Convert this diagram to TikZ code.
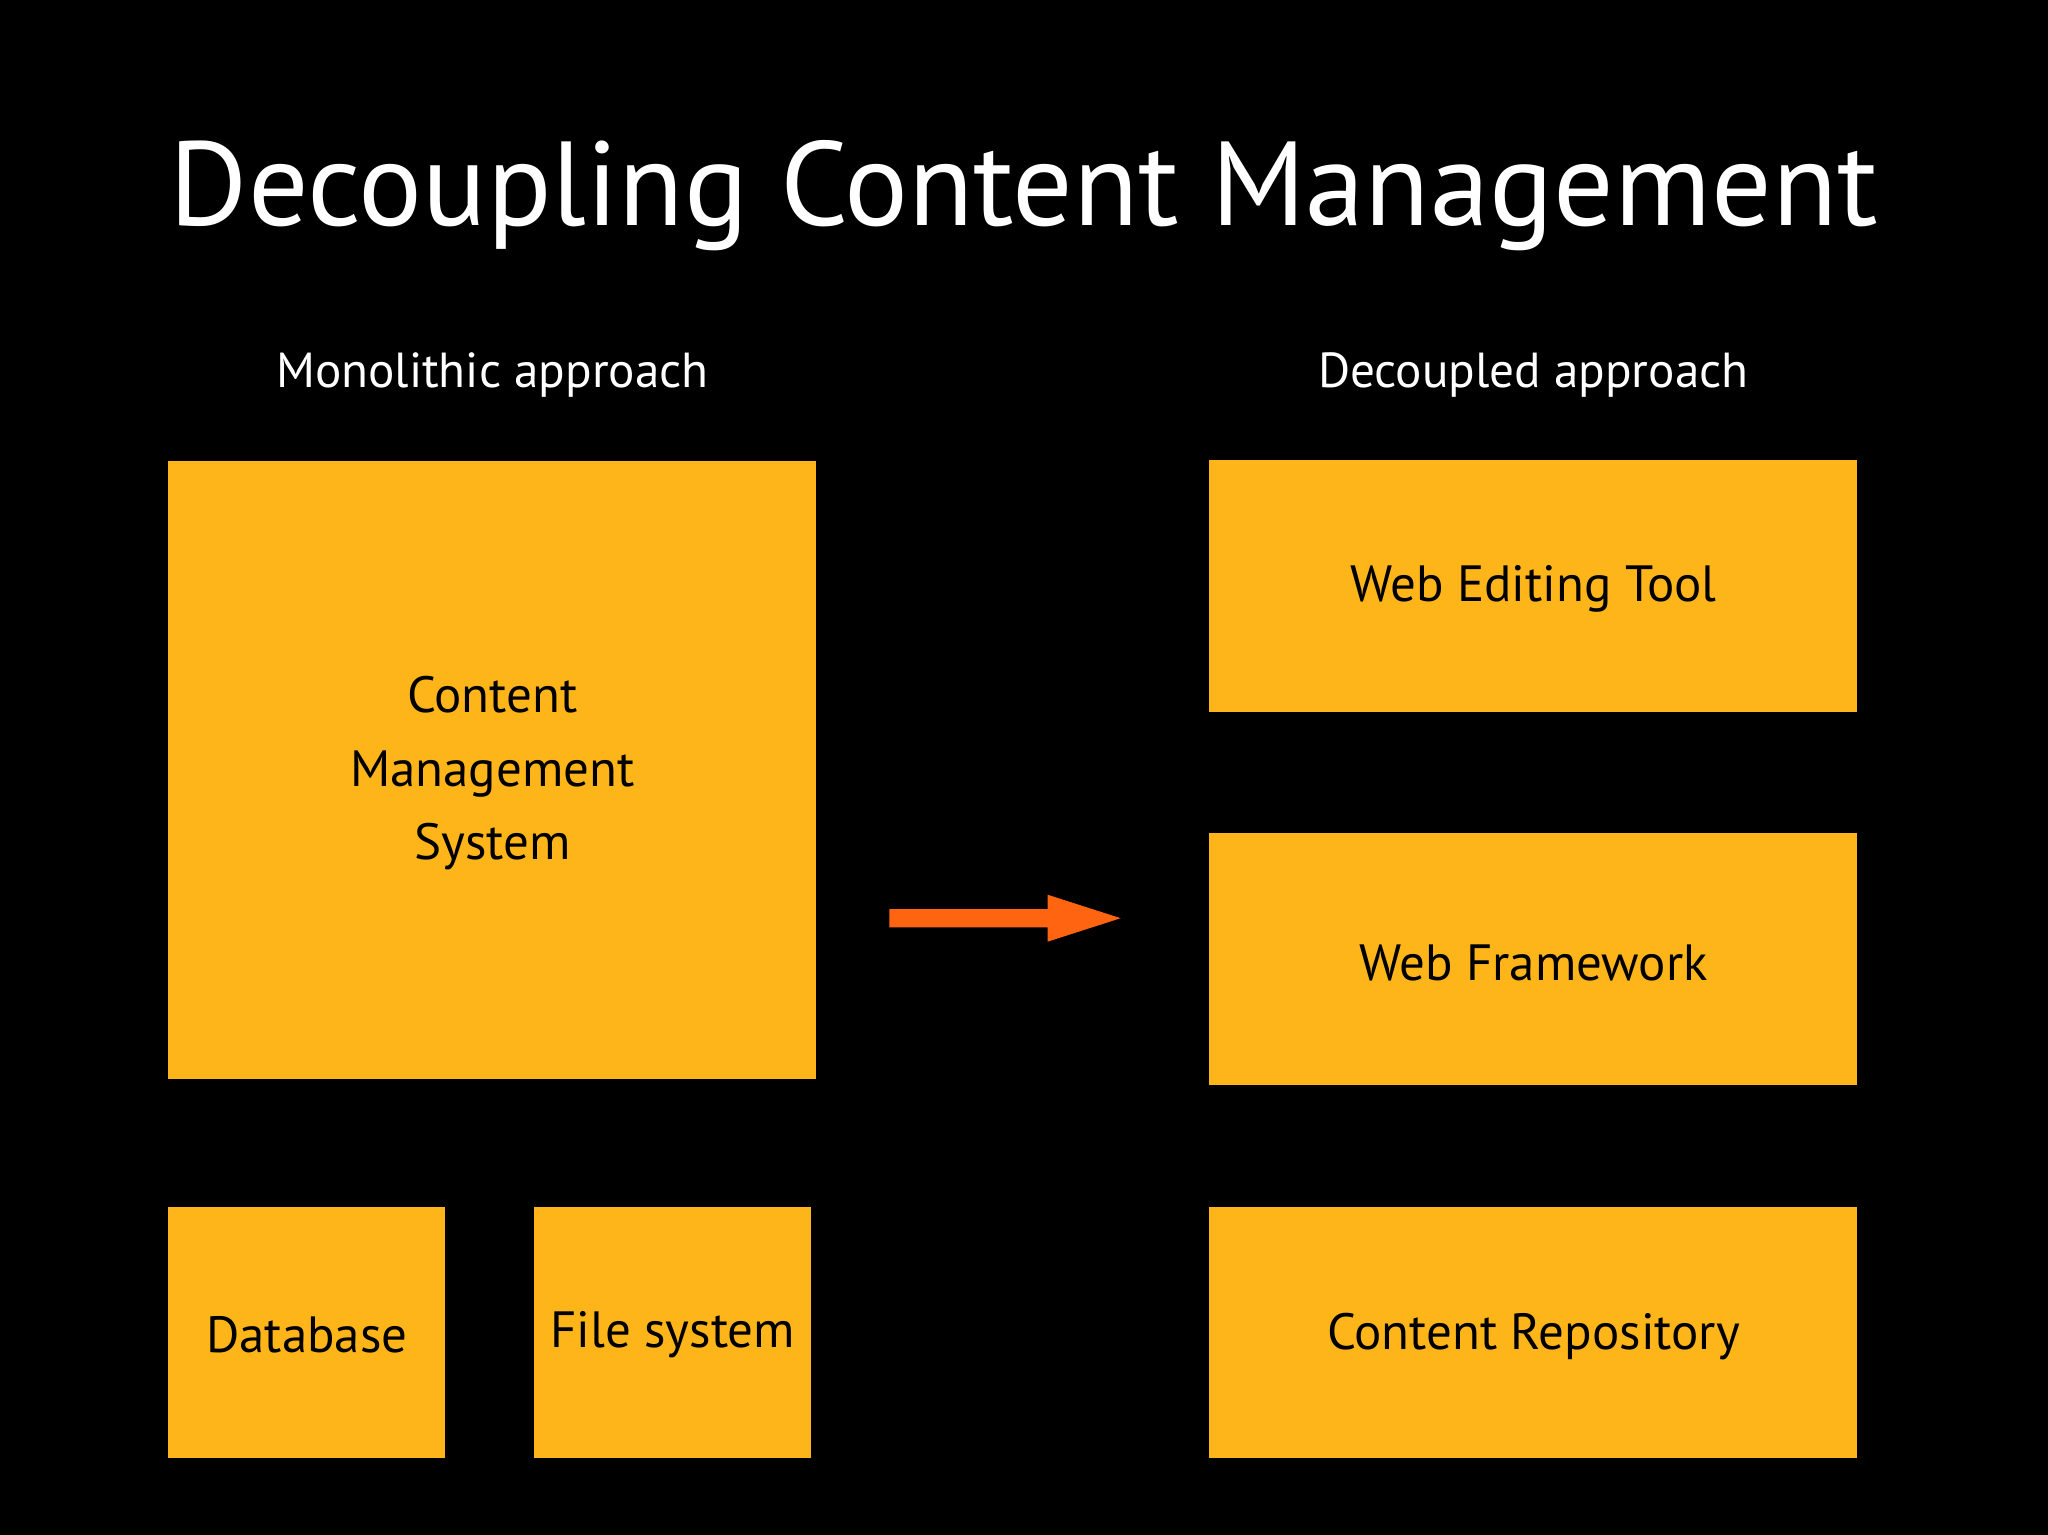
\documentclass[tikz,border=0pt]{standalone}
\usepackage{fontspec}
\setmainfont{PT Sans}
\begin{document}
\begin{tikzpicture}[x=0.01306cm,y=-0.01306cm,
  box/.style={fill=boxc,draw=none,align=center,font=\fontsize{14.5}{21}\selectfont,text=black},
  sub/.style={text=white,font=\fontsize{14}{17}\selectfont}]
\definecolor{boxc}{HTML}{FDB51A}
\definecolor{arr}{HTML}{FF6510}
\fill[black] (0,0) rectangle (1568,1175);
\useasboundingbox (0,0) rectangle (1568,1175);
\node[text=white,font=\fontsize{34}{40}\selectfont] (title) at (784,150) {Decoupling Content Management};
\node[sub] (mono) at (377,287) {Monolithic approach};
\node[sub] (dec) at (1174,287) {Decoupled approach};
\path[box] (129,353) rectangle (625,826);
\node[box,fill=none] (cms) at (377,592) {Content\\Management\\System};
\path[box] (129,924) rectangle (341,1116);
\node[box,fill=none] (db) at (235,1022) {Database};
\path[box] (409,924) rectangle (621,1116);
\node[box,fill=none] (fs) at (515,1022) {File system};
\path[box] (926,352) rectangle (1422,545);
\node[box,fill=none] (wet) at (1174,451) {Web Editing Tool};
\path[box] (926,638) rectangle (1422,831);
\node[box,fill=none] (wf) at (1174,737) {Web Framework};
\path[box] (926,924) rectangle (1422,1116);
\node[box,fill=none] (cr) at (1174,1023) {Content Repository};
\coordinate (a1) at (681,703);
\coordinate (a2) at (858,703);
\fill[arr] (681,696) -- (802,696) -- (802,685) -- (858,703) -- (802,721) -- (802,710) -- (681,710) -- cycle;
\end{tikzpicture}
\end{document}
